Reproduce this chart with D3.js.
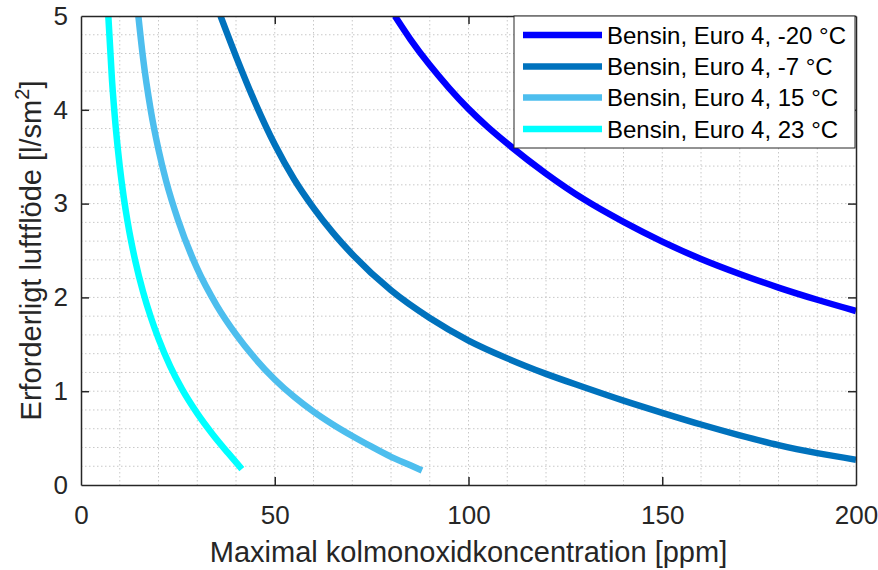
<!DOCTYPE html>
<html>
<head>
<meta charset="utf-8">
<script src="https://cdn.jsdelivr.net/npm/d3@7"></script>
<style>
  html, body { margin: 0; padding: 0; background: #fff; }
  svg { display: block; font-family: "Liberation Sans", Arial, sans-serif; }
</style>
</head>
<body>
<svg id="chart" width="878" height="570"></svg>
<script>
// ---- Data ----
const seriesNames = ["Bensin, Euro 4, -20 °C", "Bensin, Euro 4, -7 °C", "Bensin, Euro 4, 15 °C", "Bensin, Euro 4, 23 °C"];
const seriesColors = ["#0000FF", "#0072BD", "#4DBEEE", "#00FFFF"];

const xM20 = [81, 85, 90, 95, 100, 105, 110, 120, 130, 140, 150, 160, 170, 180, 190, 200];
const yM20 = [5.0, 4.752, 4.477, 4.232, 4.01, 3.815, 3.64, 3.32, 3.04, 2.805, 2.595, 2.41, 2.25, 2.105, 1.975, 1.855];

const xM7 = [36, 40, 45, 50, 55, 60, 65, 70, 80, 90, 100, 110, 120, 130, 140, 150, 160, 170, 180, 190, 200];
const yM7 = [5.0, 4.57, 4.07, 3.63, 3.26, 2.955, 2.69, 2.46, 2.075, 1.78, 1.54, 1.35, 1.185, 1.04, 0.90, 0.77, 0.645, 0.53, 0.425, 0.34, 0.27];

const xP15 = [14.8, 16, 18, 20, 22, 25, 30, 35, 40, 45, 50, 55, 60, 65, 70, 75, 80, 85, 88];
const yP15 = [5.0, 4.556, 3.996, 3.576, 3.236, 2.831, 2.306, 1.916, 1.606, 1.346, 1.125, 0.94, 0.782, 0.645, 0.522, 0.408, 0.30, 0.21, 0.155];

const xP23 = [7.05, 8, 9, 10, 11, 12, 13, 14, 16, 18, 20, 23, 26, 30, 34, 38, 41.5];
const yP23 = [5.0, 4.316, 3.796, 3.396, 3.076, 2.811, 2.586, 2.391, 2.061, 1.791, 1.561, 1.267, 1.027, 0.763, 0.539, 0.339, 0.17];

const xTicks = [0, 50, 100, 150, 200];
const yTicks = [0, 1, 2, 3, 4, 5];
const xLabel = "Maximal kolmonoxidkoncentration [ppm]";
const yLabelMain = "Erforderligt luftflöde [l/sm";
const yLabelSup = "2";
const yLabelEnd = "]";

// ---- Layout ----
const svg = d3.select("#chart");
const L = 81, R = 856, T = 16, B = 485;
const axisColor = "#262626";

const x = d3.scaleLinear().domain([0, 200]).range([L, R]);
const y = d3.scaleLinear().domain([0, 5]).range([B, T]);

// grid (minor + major, dotted)
const grid = svg.append("g");
d3.range(0, 201, 10).forEach(v => {
  if (v === 0 || v === 200) return;
  grid.append("line").attr("x1", x(v)).attr("x2", x(v)).attr("y1", T).attr("y2", B)
    .attr("stroke", "#c8c8c8").attr("stroke-width", 1).attr("stroke-dasharray", "1.5,2.5");
});
d3.range(0, 5.001, 0.2).forEach(v => {
  const vv = Math.round(v * 10) / 10;
  if (vv === 0 || vv === 5) return;
  grid.append("line").attr("x1", L).attr("x2", R).attr("y1", y(vv)).attr("y2", y(vv))
    .attr("stroke", "#c8c8c8").attr("stroke-width", 1).attr("stroke-dasharray", "1.5,2.5");
});

// clip
svg.append("clipPath").attr("id", "clip").append("rect")
  .attr("x", L).attr("y", T).attr("width", R - L).attr("height", B - T);

const line = d3.line().x(d => x(d[0])).y(d => y(d[1])).curve(d3.curveMonotoneX);
const series = [
  d3.zip(xM20, yM20), d3.zip(xM7, yM7), d3.zip(xP15, yP15), d3.zip(xP23, yP23)
];
const plot = svg.append("g").attr("clip-path", "url(#clip)");
series.forEach((s, i) => {
  plot.append("path").datum(s).attr("d", line)
    .attr("fill", "none").attr("stroke", seriesColors[i]).attr("stroke-width", 6.5)
    .attr("stroke-linecap", "butt").attr("stroke-linejoin", "round");
});

// axes with inward ticks (box)
const tickLen = 8;
const fmt = d3.format("d");
const axB = svg.append("g").attr("transform", `translate(0,${B})`)
  .call(d3.axisBottom(x).tickValues(xTicks).tickFormat(fmt).tickSizeInner(-tickLen).tickSizeOuter(0).tickPadding(21));
const axT = svg.append("g").attr("transform", `translate(0,${T})`)
  .call(d3.axisTop(x).tickValues(xTicks).tickSizeInner(-tickLen).tickSizeOuter(0).tickFormat(""));
const axL = svg.append("g").attr("transform", `translate(${L},0)`)
  .call(d3.axisLeft(y).tickValues(yTicks).tickFormat(fmt).tickSizeInner(-tickLen).tickSizeOuter(0).tickPadding(13));
const axR = svg.append("g").attr("transform", `translate(${R},0)`)
  .call(d3.axisRight(y).tickValues(yTicks).tickSizeInner(-tickLen).tickSizeOuter(0).tickFormat(""));
[axB, axT, axL, axR].forEach(a => {
  a.select(".domain").attr("stroke", axisColor).attr("stroke-width", 1.5);
  a.selectAll(".tick line").attr("stroke", axisColor).attr("stroke-width", 1.5);
  a.selectAll(".tick text").attr("fill", axisColor).attr("font-size", 26)
    .attr("font-family", "Liberation Sans, Arial, sans-serif");
});
// hide ticks at box corners
axB.selectAll(".tick").filter(d => d === 0 || d === 200).select("line").remove();
axT.selectAll(".tick").filter(d => d === 0 || d === 200).select("line").remove();
axL.selectAll(".tick").filter(d => d === 0 || d === 5).select("line").remove();
axR.selectAll(".tick").filter(d => d === 0 || d === 5).select("line").remove();

// axis labels
svg.append("text").attr("x", (L + R) / 2).attr("y", 562).attr("text-anchor", "middle")
  .attr("font-size", 29).attr("fill", axisColor).text(xLabel);

const yl = svg.append("text").attr("transform", `translate(41,${(T + B) / 2}) rotate(-90)`)
  .attr("text-anchor", "middle").attr("font-size", 29).attr("fill", axisColor);
yl.append("tspan").text(yLabelMain);
yl.append("tspan").attr("dy", -12).attr("font-size", 20).text(yLabelSup);
yl.append("tspan").attr("dy", 12).text(yLabelEnd);

// legend
const lg = svg.append("g");
lg.append("rect").attr("x", 514).attr("y", 16).attr("width", 341).attr("height", 132)
  .attr("fill", "#fff").attr("stroke", axisColor).attr("stroke-width", 1);
const rowY = [35, 66.5, 97.5, 129];
seriesNames.forEach((name, i) => {
  lg.append("line").attr("x1", 523).attr("x2", 602).attr("y1", rowY[i]).attr("y2", rowY[i])
    .attr("stroke", seriesColors[i]).attr("stroke-width", 6.5);
  lg.append("text").attr("x", 607).attr("y", rowY[i]).attr("dy", "0.36em")
    .attr("font-size", 24).attr("fill", "#000").text(name);
});
</script>
</body>
</html>
